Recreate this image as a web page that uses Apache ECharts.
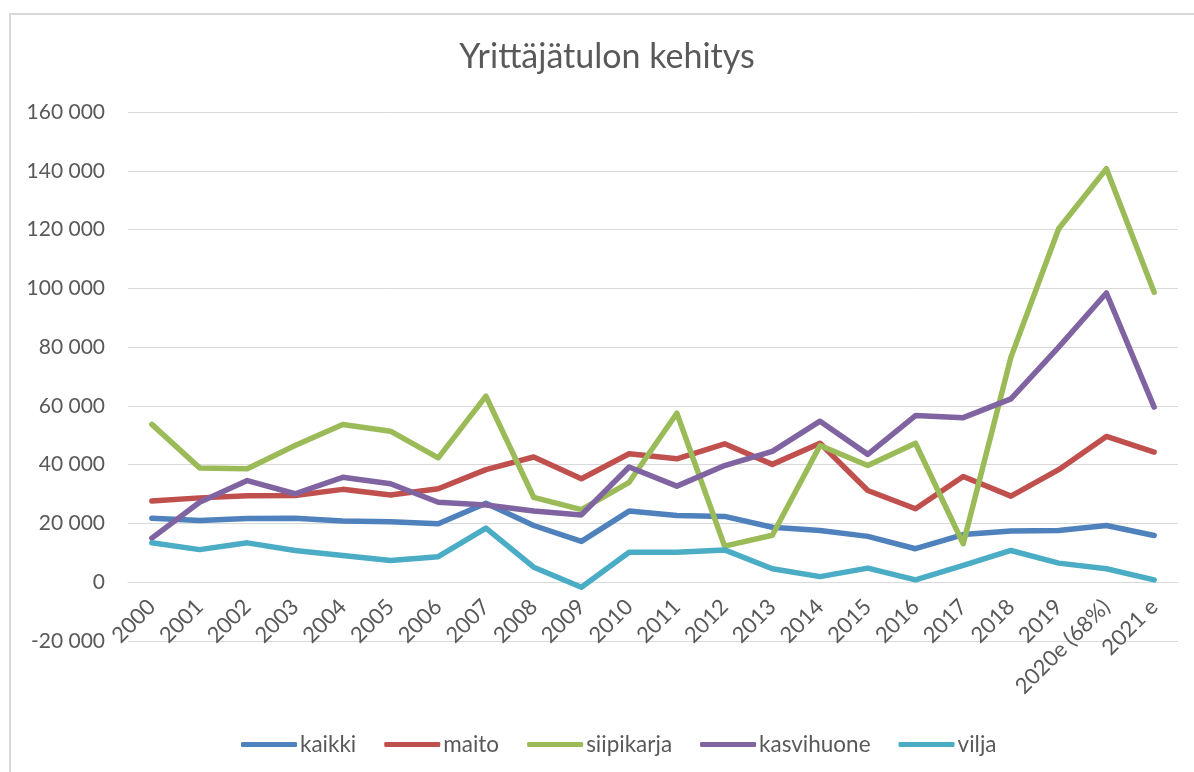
<!DOCTYPE html>
<html>
<head>
<meta charset="utf-8">
<script src="https://cdn.jsdelivr.net/npm/echarts@6/dist/echarts.min.js"></script>
<style>
  html, body { margin: 0; padding: 0; background: #ffffff; }
  #chart { width: 1194px; height: 772px; }
</style>
</head>
<body>
<div id="chart"></div>
<script>
const titleText = 'Yrittäjätulon kehitys';
const categories = ['2000','2001','2002','2003','2004','2005','2006','2007','2008','2009','2010','2011','2012','2013','2014','2015','2016','2017','2018','2019','2020e (68%)','2021 e'];
const kaikki =     [21800, 21000, 21700, 21800, 20800, 20600, 19900, 26900, 19300, 13900, 24200, 22700, 22400, 18700, 17600, 15600, 11400, 16200, 17400, 17600, 19300, 15900];
const maito =      [27600, 28700, 29400, 29500, 31600, 29700, 31800, 38300, 42600, 35200, 43700, 42000, 47100, 40100, 47300, 31200, 25000, 36000, 29300, 38300, 49600, 44300];
const siipikarja = [53700, 38900, 38600, 46500, 53700, 51400, 42300, 63300, 28900, 24700, 34000, 57500, 12300, 16000, 46500, 39700, 47300, 13100, 76600, 120300, 140700, 98700];
const kasvihuone = [15000, 27200, 34600, 30100, 35700, 33500, 27200, 26300, 24200, 22900, 39200, 32700, 39700, 44500, 54800, 43500, 56700, 56000, 62400, 80000, 98400, 59600];
const vilja =      [13400, 11100, 13400, 10800, 9100, 7400, 8700, 18400, 5100, -1700, 10200, 10200, 11000, 4600, 1900, 4800, 800, 5700, 10800, 6500, 4600, 800];
const seriesNames = ['kaikki', 'maito', 'siipikarja', 'kasvihuone', 'vilja'];
const seriesData = [kaikki, maito, siipikarja, kasvihuone, vilja];
const colors = ['#4F81BD', '#C0504D', '#9BBB59', '#8064A2', '#4BACC6'];

const FONT = 'Lato, "Noto Sans", sans-serif';
const TXT = '#595959';

function fmt(v) {
  const s = Math.abs(v).toString().replace(/\B(?=(\d{3})+(?!\d))/g, ' ');
  return (v < 0 ? '-' : '') + s;
}

const chart = echarts.init(document.getElementById('chart'), null, { renderer: 'canvas' });
chart.setOption({
  animation: false,
  backgroundColor: '#ffffff',
  textStyle: { fontFamily: FONT },
  graphic: [
    {
      type: 'rect',
      shape: { x: 10, y: 14, width: 1220, height: 800 },
      style: { fill: 'none', stroke: '#d9d9d9', lineWidth: 2 },
      silent: true
    },
    {
      type: 'text',
      x: 607, y: 57,
      style: {
        text: titleText,
        fontFamily: FONT,
        fontSize: 34,
        fill: TXT,
        textAlign: 'center',
        textVerticalAlign: 'middle'
      }
    }
  ],
  legend: {
    data: seriesNames,
    left: 236,
    top: 728,
    itemWidth: 56,
    itemHeight: 5,
    itemGap: 28,
    icon: 'roundRect',
    textStyle: { fontFamily: FONT, fontSize: 22.5, color: TXT, padding: [0, 0, 0, -2] }
  },
  grid: { left: 128, right: 16, top: 112, bottom: 131, containLabel: false },
  xAxis: {
    type: 'category',
    data: categories,
    boundaryGap: true,
    offset: -58.75,
    axisLine: { show: true, onZero: false, lineStyle: { color: '#d9d9d9', width: 1 } },
    axisTick: { show: false },
    axisLabel: {
      interval: 0,
      rotate: 45,
      margin: 21,
      fontFamily: FONT,
      fontSize: 22,
      color: TXT
    },
    splitLine: { show: false }
  },
  yAxis: {
    type: 'value',
    min: -20000,
    max: 160000,
    interval: 20000,
    axisLine: { show: false },
    axisTick: { show: false },
    axisLabel: {
      margin: 23,
      fontFamily: FONT,
      fontSize: 21,
      color: TXT,
      formatter: fmt
    },
    splitLine: { show: true, lineStyle: { color: '#d9d9d9', width: 1 } }
  },
  series: seriesNames.map((name, i) => ({
    name: name,
    type: 'line',
    data: seriesData[i],
    symbol: 'none',
    showSymbol: false,
    color: colors[i],
    itemStyle: { color: colors[i] },
    lineStyle: { color: colors[i], width: 5.5, cap: 'round', join: 'round' },
    z: 2 + i
  }))
});
</script>
</body>
</html>
